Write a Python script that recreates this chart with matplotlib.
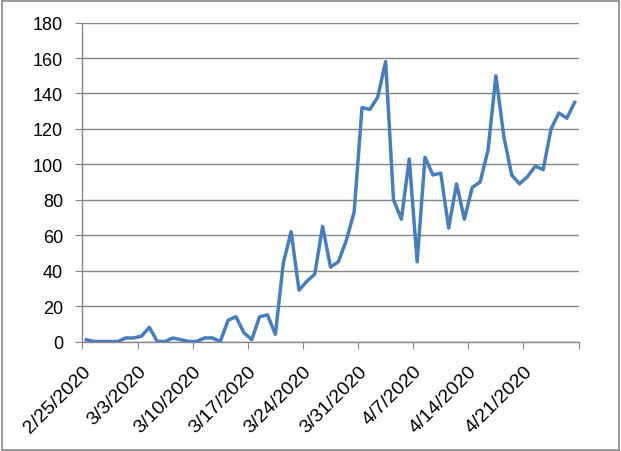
import matplotlib
matplotlib.use("Agg")
import matplotlib.pyplot as plt
from matplotlib.patches import Rectangle

tick_labels = ["2/25/2020", "3/3/2020", "3/10/2020", "3/17/2020", "3/24/2020",
               "3/31/2020", "4/7/2020", "4/14/2020", "4/21/2020", ""]
values = [1, 0, 0, 0, 0, 2, 2, 3, 8, 0,
          0, 2, 1, 0, 0, 2, 2, 0, 12, 14,
          5, 1, 14, 15, 4, 44, 62, 29, 34, 38,
          65, 42, 45, 57, 73, 132, 131, 138, 158, 80,
          69, 103, 45, 104, 94, 95, 64, 89, 69, 87,
          90, 108, 150, 116, 94, 89, 93, 99, 97, 120,
          129, 126, 135]
yticks = [0, 20, 40, 60, 80, 100, 120, 140, 160, 180]

fig = plt.figure(figsize=(6.21, 4.52), dpi=100)
ax = fig.add_axes([82.4 / 621, 1 - 342.5 / 452, (578.6 - 82.4) / 621, (342.5 - 23.6) / 452])

x = [i + 0.5 for i in range(len(values))]
ax.plot(x, values, color="#4A7EBB", linewidth=2.5, solid_joinstyle="round", zorder=3)

ax.set_xlim(0, len(values))
ax.set_ylim(0, 180)
ax.set_yticks(yticks)
ax.set_yticklabels([str(v) for v in yticks], fontsize=13, family="Liberation Sans")
ax.set_xticks([7 * i for i in range(len(tick_labels))])
ax.set_xticklabels(tick_labels, rotation=45, ha="right", va="top", rotation_mode="anchor",
                   fontsize=14, family="Liberation Sans")
ax.grid(axis="y", color="#868686", linewidth=1.0, zorder=0)
for s in ["top", "right"]:
    ax.spines[s].set_visible(False)
for s in ["left", "bottom"]:
    ax.spines[s].set_color("#868686")
    ax.spines[s].set_linewidth(1.0)
ax.tick_params(axis="y", direction="out", length=5, color="#868686", pad=9)
ax.tick_params(axis="x", direction="out", length=5, color="#868686", pad=10)

fig.patches.append(Rectangle((1.5 / 621, 1.5 / 452), 1 - 3.5 / 621, 1 - 3.5 / 452,
                             transform=fig.transFigure, fill=False,
                             edgecolor="#868686", linewidth=1.2))
fig.savefig("out.png", dpi=100)
